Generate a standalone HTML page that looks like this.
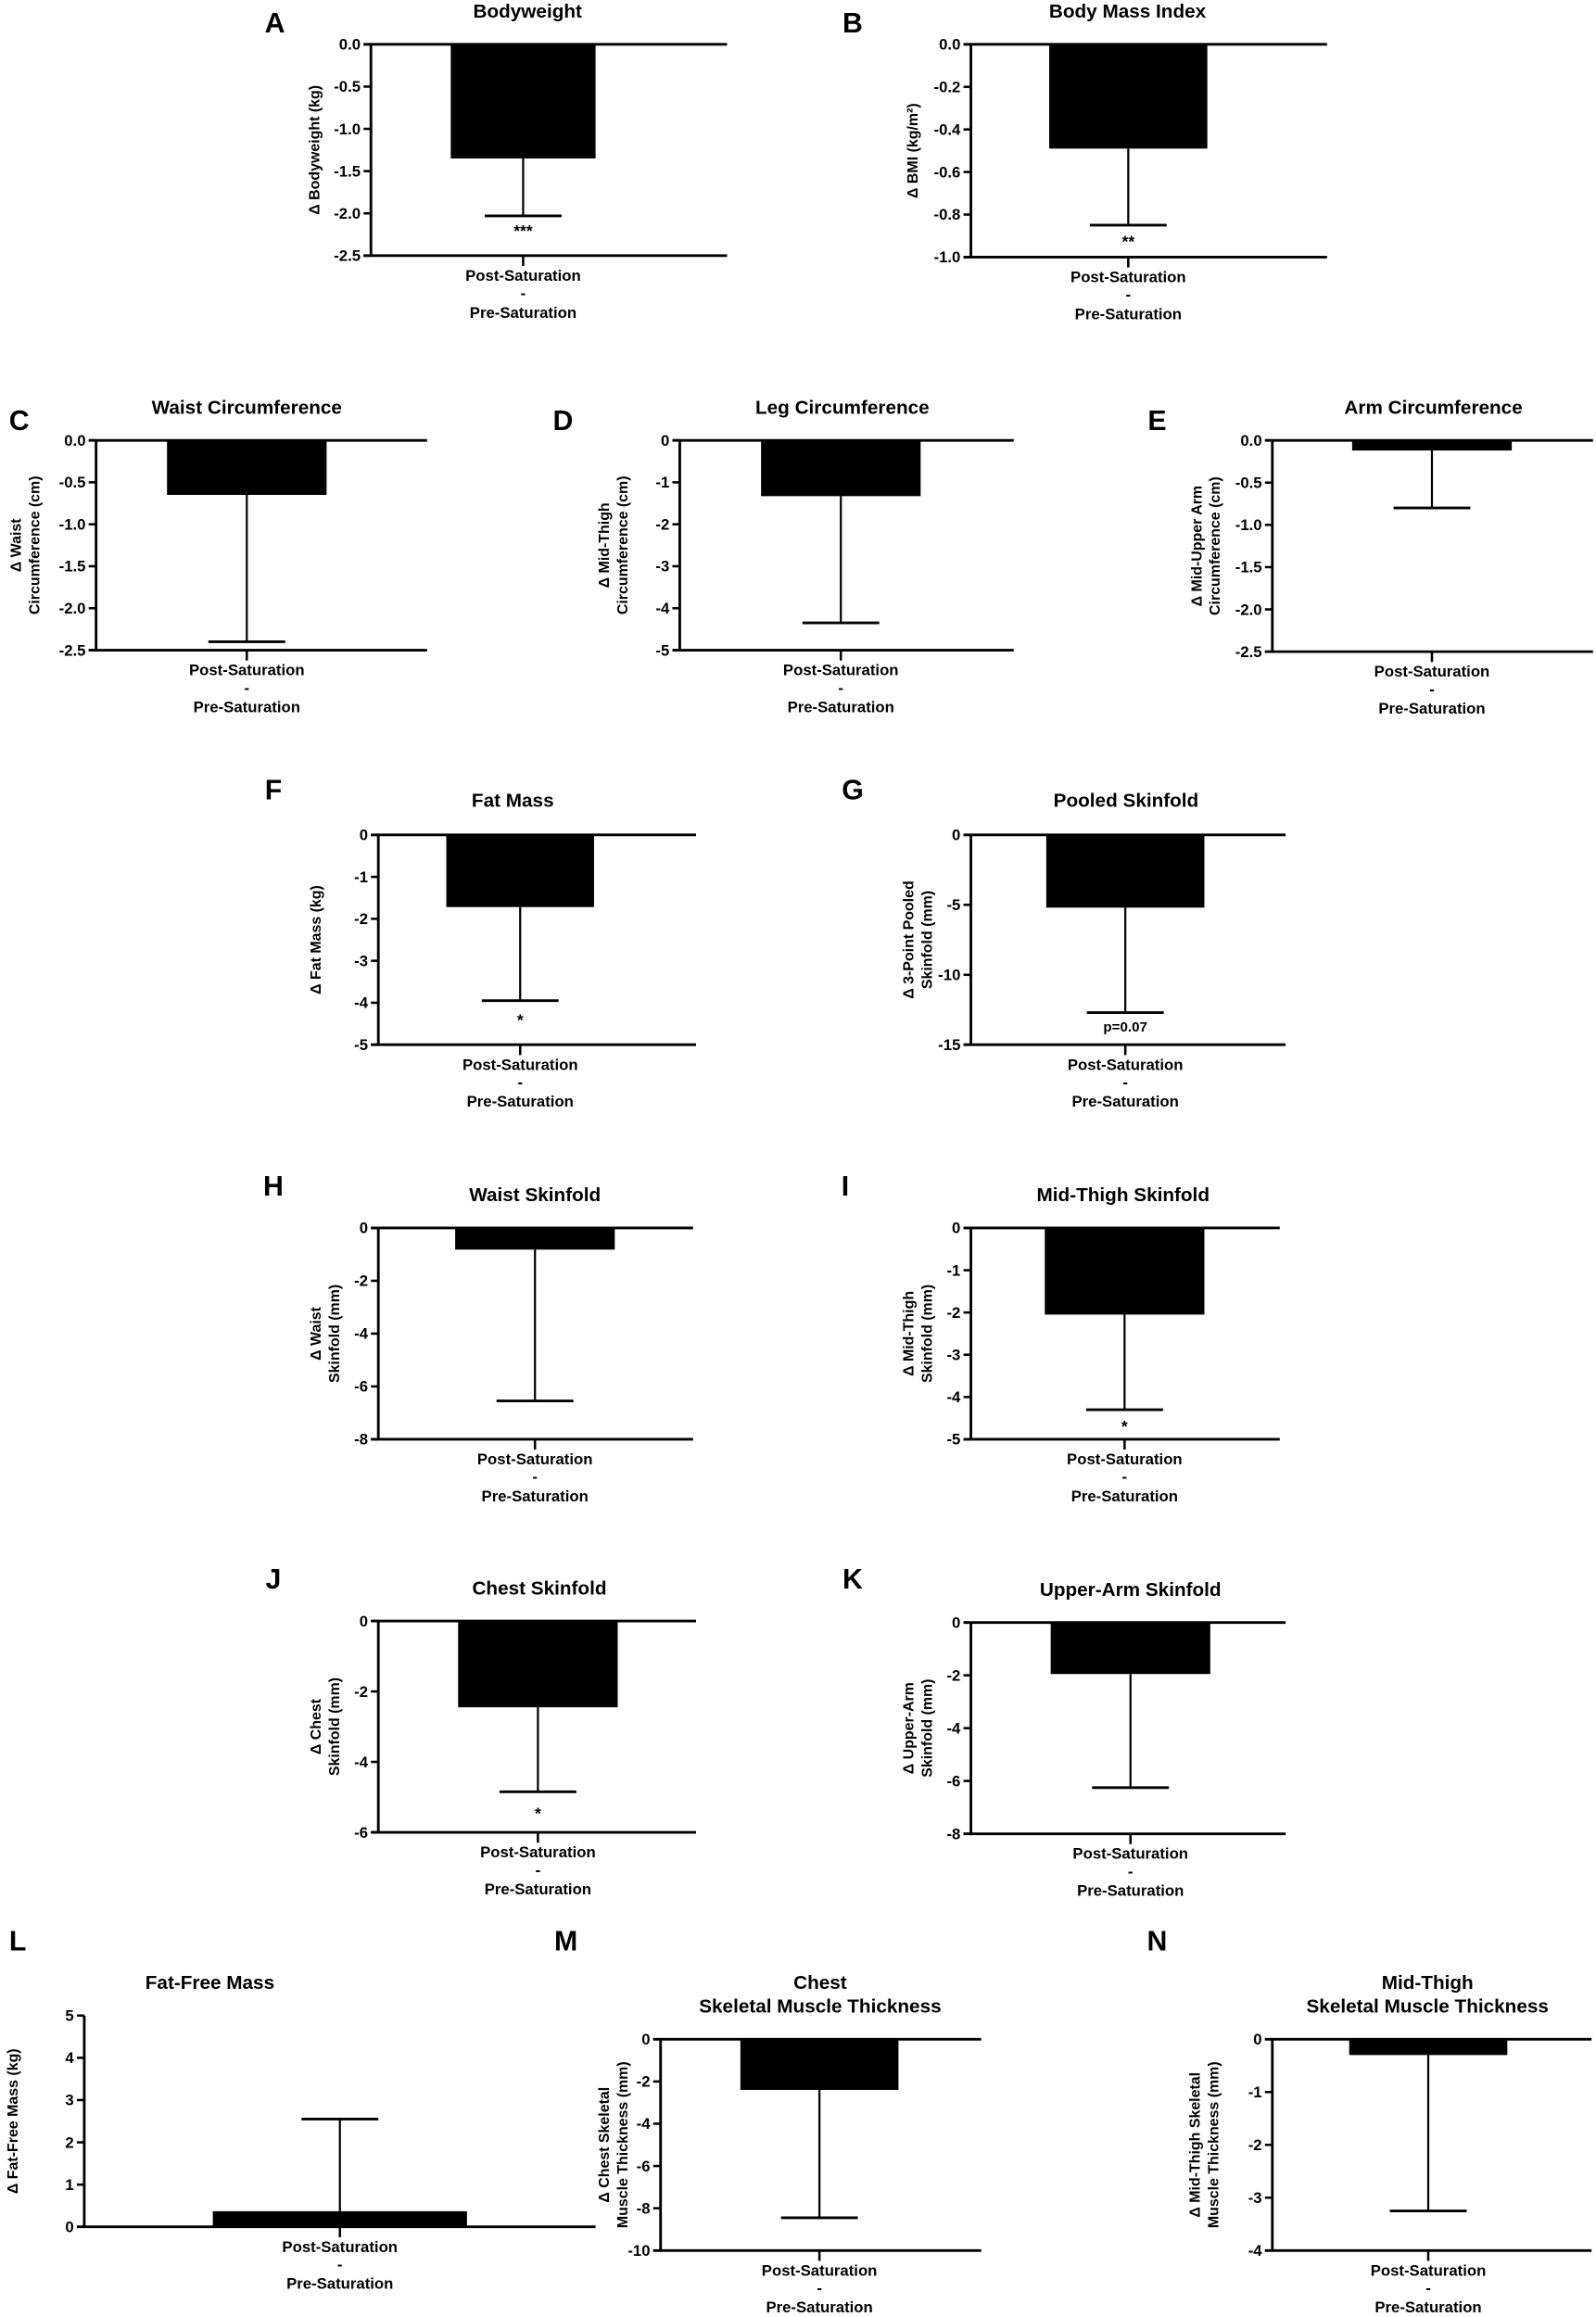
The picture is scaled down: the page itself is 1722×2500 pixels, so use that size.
<!DOCTYPE html>
<html><head><meta charset="utf-8"><style>
html,body{margin:0;padding:0;background:#fff}
svg{display:block}
text{font-family:"Liberation Sans",sans-serif;font-weight:bold;fill:#000}
</style></head><body>
<svg id="s" width="1722" height="2500" viewBox="0 0 1080 1568" xmlns="http://www.w3.org/2000/svg"></svg>
<script>
const P=[
{L:"A",lx:186,ly:22,T:["Bodyweight"],tx:357,ty:12,x:251,top:30,bot:173,r:492,b1:305,b2:403,min:-2.5,max:0,v:-1.35,e:-2.03,ticks:["0.0","-0.5","-1.0","-1.5","-2.0","-2.5"],yl:["Δ Bodyweight (kg)"],ylx:212,sig:"***",sy:160},
{L:"B",lx:577,ly:22,T:["Body Mass Index"],tx:763,ty:12,x:657,top:30,bot:174,r:898,b1:710,b2:817,min:-1,max:0,v:-0.49,e:-0.85,ticks:["0.0","-0.2","-0.4","-0.6","-0.8","-1.0"],yl:["Δ BMI (kg/m²)"],ylx:617,sig:"**",sy:167},
{L:"C",lx:13,ly:291,T:["Waist Circumference"],tx:167,ty:280,x:65,top:298,bot:440,r:289,b1:113,b2:221,min:-2.5,max:0,v:-0.65,e:-2.4,ticks:["0.0","-0.5","-1.0","-1.5","-2.0","-2.5"],yl:["Δ Waist","Circumference (cm)"],ylx:10},
{L:"D",lx:381,ly:291,T:["Leg Circumference"],tx:570,ty:280,x:460,top:298,bot:440,r:686,b1:515,b2:623,min:-5,max:0,v:-1.33,e:-4.35,ticks:["0","-1","-2","-3","-4","-5"],yl:["Δ Mid-Thigh","Circumference (cm)"],ylx:408},
{L:"E",lx:783,ly:291,T:["Arm Circumference"],tx:970,ty:280,x:861,top:298,bot:441,r:1078,b1:915,b2:1023,min:-2.5,max:0,v:-0.12,e:-0.8,ticks:["0.0","-0.5","-1.0","-1.5","-2.0","-2.5"],yl:["Δ Mid-Upper Arm","Circumference (cm)"],ylx:809},
{L:"F",lx:185,ly:541,T:["Fat Mass"],tx:347,ty:546,x:256,top:565,bot:707,r:471,b1:302,b2:402,min:-5,max:0,v:-1.72,e:-3.95,ticks:["0","-1","-2","-3","-4","-5"],yl:["Δ Fat Mass (kg)"],ylx:213,sig:"*",sy:694},
{L:"G",lx:577,ly:541,T:["Pooled Skinfold"],tx:762,ty:546,x:657,top:565,bot:707,r:870,b1:708,b2:815,min:-15,max:0,v:-5.2,e:-12.7,ticks:["0","-5","-10","-15"],yl:["Δ 3-Point Pooled","Skinfold (mm)"],ylx:614,sig:"p=0.07",sy:698,sw:"normal"},
{L:"H",lx:185,ly:809,T:["Waist Skinfold"],tx:362,ty:813,x:256,top:831,bot:974,r:469,b1:308,b2:416,min:-8,max:0,v:-0.82,e:-6.55,ticks:["0","-2","-4","-6","-8"],yl:["Δ Waist","Skinfold (mm)"],ylx:213},
{L:"I",lx:572,ly:809,T:["Mid-Thigh Skinfold"],tx:760,ty:813,x:657,top:831,bot:974,r:866,b1:707,b2:815,min:-5,max:0,v:-2.05,e:-4.3,ticks:["0","-1","-2","-3","-4","-5"],yl:["Δ Mid-Thigh","Skinfold (mm)"],ylx:614,sig:"*",sy:969},
{L:"J",lx:185,ly:1075,T:["Chest Skinfold"],tx:365,ty:1079,x:256,top:1097,bot:1240,r:471,b1:310,b2:418,min:-6,max:0,v:-2.45,e:-4.85,ticks:["0","-2","-4","-6"],yl:["Δ Chest","Skinfold (mm)"],ylx:213,sig:"*",sy:1231},
{L:"K",lx:577,ly:1075,T:["Upper-Arm Skinfold"],tx:765,ty:1080,x:657,top:1098,bot:1241,r:870,b1:711,b2:819,min:-8,max:0,v:-1.95,e:-6.25,ticks:["0","-2","-4","-6","-8"],yl:["Δ Upper-Arm","Skinfold (mm)"],ylx:614},
{L:"L",lx:12,ly:1320,T:["Fat-Free Mass"],tx:142,ty:1346,x:57,top:1364,bot:1507,r:403,b1:144,b2:316,min:0,max:5,v:0.37,e:2.55,ticks:["5","4","3","2","1","0"],yl:["Δ Fat-Free Mass (kg)"],ylx:8,pos:1},
{L:"M",lx:383,ly:1320,T:["Chest","Skeletal Muscle Thickness"],tx:555,ty:1346,x:447,top:1380,bot:1523,r:664,b1:501,b2:608,min:-10,max:0,v:-2.4,e:-8.45,ticks:["0","-2","-4","-6","-8","-10"],yl:["Δ Chest Skeletal","Muscle Thickness (mm)"],ylx:408},
{L:"N",lx:783,ly:1320,T:["Mid-Thigh","Skeletal Muscle Thickness"],tx:966,ty:1346,x:861,top:1380,bot:1523,r:1077,b1:913,b2:1020,min:-4,max:0,v:-0.3,e:-3.25,ticks:["0","-1","-2","-3","-4"],yl:["Δ Mid-Thigh Skeletal","Muscle Thickness (mm)"],ylx:808}
];
let h="";
for(const p of P){
 const Y=v=>p.top+(p.max-v)/(p.max-p.min)*(p.bot-p.top);
 const c=(p.b1+p.b2)/2;
 h+=`<text x="${p.lx}" y="${p.ly}" font-size="19" text-anchor="middle">${p.L}</text>`;
 p.T.forEach((t,i)=>h+=`<text x="${p.tx}" y="${p.ty+i*16}" font-size="13" text-anchor="middle">${t}</text>`);
 const y0=Y(0),yv=Y(p.v);
 h+=`<rect x="${p.b1}" y="${Math.min(y0,yv)}" width="${p.b2-p.b1}" height="${Math.abs(yv-y0)}" fill="#000"/>`;
 const ye=Y(p.e);
 h+=`<line x1="${c}" y1="${yv}" x2="${c}" y2="${ye}" stroke="#000" stroke-width="1.4"/>`;
 h+=`<line x1="${c-26}" y1="${ye}" x2="${c+26}" y2="${ye}" stroke="#000" stroke-width="1.8"/>`;
 h+=`<line x1="${p.x}" y1="${p.top}" x2="${p.x}" y2="${p.bot}" stroke="#000" stroke-width="1.8"/>`;
 if(!p.pos) h+=`<line x1="${p.x-5}" y1="${p.top}" x2="${p.r}" y2="${p.top}" stroke="#000" stroke-width="1.8"/>`;
 h+=`<line x1="${p.x-5}" y1="${p.bot}" x2="${p.r}" y2="${p.bot}" stroke="#000" stroke-width="1.8"/>`;
 h+=`<line x1="${c}" y1="${p.bot}" x2="${c}" y2="${p.bot+7}" stroke="#000" stroke-width="1.6"/>`;
 const n=p.ticks.length;
 p.ticks.forEach((t,i)=>{const yy=p.top+i*(p.bot-p.top)/(n-1);
  h+=`<line x1="${p.x-5}" y1="${yy}" x2="${p.x}" y2="${yy}" stroke="#000" stroke-width="1.6"/>`;
  h+=`<text x="${p.x-7}" y="${yy+3.6}" font-size="10.5" text-anchor="end">${t}</text>`;});
 const ym=(p.top+p.bot)/2;
 p.yl.forEach((t,i)=>h+=`<text transform="translate(${p.ylx+4+i*12.5},${ym}) rotate(-90)" font-size="10" text-anchor="middle">${t}</text>`);
 if(p.sig) h+=`<text x="${c}" y="${p.sy}" font-size="${p.sw?9.5:11}" font-weight="${p.sw||'bold'}" text-anchor="middle">${p.sig}</text>`;
 const lb=p.bot+17;
 h+=`<text x="${c}" y="${lb}" font-size="10.5" text-anchor="middle">Post-Saturation</text>`;
 h+=`<text x="${c}" y="${lb+12}" font-size="10.5" text-anchor="middle">-</text>`;
 h+=`<text x="${c}" y="${lb+25}" font-size="10.5" text-anchor="middle">Pre-Saturation</text>`;
}
document.getElementById("s").innerHTML=h;
</script>
</body></html>
